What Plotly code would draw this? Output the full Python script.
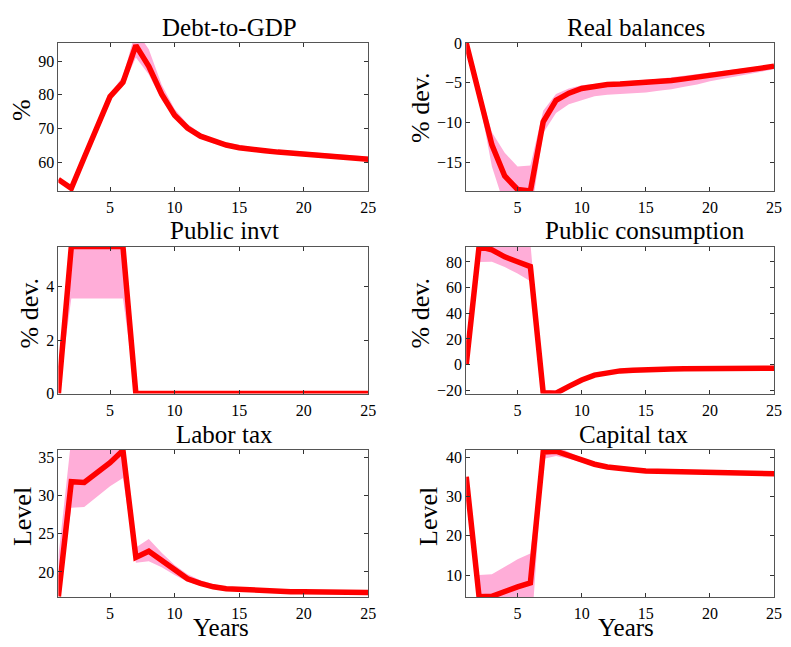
import plotly.graph_objects as go

years = list(range(1, 26))

debt = [55.0, 52.4, 61.5, 70.6, 79.5, 83.7, 94.6, 88.4, 80.2, 74.0, 70.2, 67.8, 66.3, 65.2, 64.4,
        63.8, 63.5, 63.1, 62.8, 62.5, 62.2, 61.9, 61.6, 61.3, 61.0]
debt_hi = [55.3, 52.8, 62.2, 71.3, 80.3, 85.5, 99.0, 93.5, 83.0, 75.8, 71.4, 68.7, 67.1, 65.9, 65.1,
           64.5, 64.1, 63.8, 63.5, 63.2, 62.9, 62.6, 62.3, 62.0, 61.8]
debt_lo = [54.7, 52.0, 60.8, 69.9, 78.7, 82.5, 91.0, 86.0, 78.5, 73.0, 69.4, 67.1, 65.7, 64.7, 64.0,
           63.4, 63.1, 62.7, 62.4, 62.1, 61.8, 61.5, 61.2, 60.9, 60.5]

rb = [0.0, -6.2, -12.8, -16.7, -18.4, -18.6, -9.9, -7.2, -6.3, -5.7, -5.4, -5.2, -5.15, -5.05, -5.0,
      -4.85, -4.7, -4.5, -4.3, -4.05, -3.85, -3.6, -3.4, -3.15, -2.9]
rb_hi = [0.0, -5.6, -11.2, -13.8, -15.5, -15.4, -8.5, -6.4, -5.7, -5.3, -5.1, -4.95, -4.85, -4.75, -4.65,
         -4.5, -4.3, -4.1, -3.9, -3.7, -3.5, -3.3, -3.1, -2.9, -2.7]
rb_lo = [0.0, -7.0, -15.5, -20.5, -22.0, -22.0, -11.3, -8.8, -7.7, -7.2, -6.7, -6.5, -6.4, -6.35, -6.2,
         -6.0, -5.8, -5.5, -5.2, -4.8, -4.5, -4.2, -3.9, -3.6, -3.3]

pinv = [0.0, 5.49, 5.49, 5.49, 5.49, 5.49] + [0.0] * 19
pinv_hi = [0.0, 5.6, 5.6, 5.6, 5.6, 5.6] + [0.0] * 19
pinv_lo = [0.0, 3.55, 3.55, 3.55, 3.55, 3.55] + [0.0] * 19

pcons = [0.0, 92.0, 89.5, 84.0, 80.2, 76.4, -22.0, -22.3, -17.0, -12.0, -8.2, -6.2, -4.9, -4.4, -3.8,
         -3.6, -3.4, -3.3, -3.2, -3.1, -3.0, -2.9, -2.8, -2.8, -2.8]
pcons_hi = [0.0, 100.0, 100.0, 100.0, 98.0, 95.0, -20.0, -20.0, -15.5, -11.0, -7.5, -5.7, -4.5, -4.0, -3.5,
            -3.3, -3.1, -3.0, -2.9, -2.8, -2.7, -2.6, -2.5, -2.5, -2.5]
pcons_lo = [0.0, 80.0, 80.2, 76.0, 71.0, 65.0, -23.0, -25.0, -19.0, -13.3, -9.0, -6.8, -5.4, -4.8, -4.2,
            -3.9, -3.7, -3.6, -3.5, -3.4, -3.3, -3.2, -3.1, -3.1, -3.1]

labor = [16.8, 31.8, 31.7, 33.0, 34.3, 35.9, 21.9, 22.7, 21.45, 20.2, 19.1, 18.5, 18.05, 17.8, 17.7,
         17.55, 17.5, 17.45, 17.4, 17.4, 17.35, 17.3, 17.3, 17.3, 17.3]
labor_hi = [22.0, 37.5, 38.0, 38.0, 38.0, 36.5, 23.2, 24.3, 22.5, 20.9, 19.7, 18.9, 18.4, 18.1, 17.9,
            17.75, 17.65, 17.55, 17.5, 17.45, 17.4, 17.4, 17.35, 17.35, 17.35]
labor_lo = [16.6, 28.4, 28.5, 29.8, 31.2, 32.3, 21.2, 21.4, 20.6, 19.6, 18.7, 18.2, 17.85, 17.65, 17.55,
            17.45, 17.4, 17.35, 17.3, 17.3, 17.25, 17.2, 17.2, 17.2, 17.2]

captax = [35.0, 4.5, 4.6, 5.9, 7.0, 8.0, 41.3, 41.5, 40.4, 39.2, 38.2, 37.5, 37.0, 36.8, 36.5,
          36.4, 36.3, 36.2, 36.1, 36.0, 36.0, 36.0, 36.0, 35.9, 35.8]
captax_hi = [35.0, 10.0, 10.2, 12.0, 14.0, 15.5, 42.0, 42.8, 41.3, 39.8, 38.6, 37.8, 37.2, 36.9, 36.6,
             36.5, 36.4, 36.3, 36.2, 36.1, 36.1, 36.1, 36.1, 36.0, 35.9]
captax_lo = [35.0, -2.0, -2.0, -1.0, 0.0, -8.0, 39.5, 40.3, 39.6, 38.7, 37.8, 37.2, 36.8, 36.6, 36.4,
             36.3, 36.2, 36.1, 36.0, 35.9, 35.9, 35.9, 35.9, 35.8, 35.7]

titles = ["Debt-to-GDP", "Real balances", "Public invt", "Public consumption", "Labor tax", "Capital tax"]
ylabels = ["%", "% dev.", "% dev.", "% dev.", "Level", "Level"]
yticks = [[60, 70, 80, 90], [-15, -10, -5, 0], [0, 2, 4], [-20, 0, 20, 40, 60, 80],
          [20, 25, 30, 35], [10, 20, 30, 40]]
yranges = [[51.6, 95.3], [-18.6, 0], [0, 5.49], [-22.6, 92.0], [16.7, 35.95], [4.4, 41.8]]
xticks = [5, 10, 15, 20, 25]

series = [(debt, debt_hi, debt_lo), (rb, rb_hi, rb_lo), (pinv, pinv_hi, pinv_lo),
          (pcons, pcons_hi, pcons_lo), (labor, labor_hi, labor_lo), (captax, captax_hi, captax_lo)]

W, H = 791, 647
# panel pixel boxes: (left, right, top, bottom)
boxes = [(59, 372, 36, 188), (471, 782, 36, 188),
         (59, 372, 245, 396), (471, 782, 245, 396),
         (59, 372, 454, 605), (471, 782, 454, 605)]
title_pos = [(232, 20), (643, 20), (227, 229), (652, 229), (227, 438), (640, 438)]
ylab_pos = [(21, 105), (425, 102), (30, 313), (425, 313), (23, 522), (433, 522)]
years_x = [223, 632]

FONT = "Liberation Serif, Times New Roman, serif"
fig = go.Figure()
layout = dict(width=W, height=H, margin=dict(l=0, r=0, t=0, b=0),
              paper_bgcolor="white", plot_bgcolor="white", showlegend=False,
              font=dict(family=FONT, color="black", size=16))
annotations = []

for i, ((mid, hi, lo), box) in enumerate(zip(series, boxes)):
    n = i + 1
    xa = "x" if n == 1 else f"x{n}"
    ya = "y" if n == 1 else f"y{n}"
    fig.add_trace(go.Scatter(x=years, y=hi, mode="lines", line=dict(width=0, color="#FFADD8"),
                             xaxis=xa, yaxis=ya, hoverinfo="skip"))
    fig.add_trace(go.Scatter(x=years, y=lo, mode="lines", line=dict(width=0, color="#FFADD8"),
                             fill="tonexty", fillcolor="#FFADD8", xaxis=xa, yaxis=ya, hoverinfo="skip"))
    fig.add_trace(go.Scatter(x=years, y=mid, mode="lines", line=dict(width=5.5, color="#FF0000"),
                             xaxis=xa, yaxis=ya))
    l, r, t, b = box
    axcommon = dict(showline=True, linecolor="#555555", linewidth=1, mirror="ticks",
                    ticks="inside", ticklen=4, tickcolor="#333333", showgrid=False, zeroline=False,
                    ticklabeloverflow="allow",
                    tickfont=dict(family=FONT, size=16, color="black"))
    xkey = "xaxis" if n == 1 else f"xaxis{n}"
    ykey = "yaxis" if n == 1 else f"yaxis{n}"
    layout[xkey] = dict(domain=[l / W, r / W], anchor=ya, range=[1, 25], tickvals=xticks,
                        ticklabelstandoff=2, **axcommon)
    layout[ykey] = dict(domain=[1 - b / H, 1 - t / H], anchor=xa, range=yranges[i],
                        tickvals=yticks[i], **axcommon)
    tx, ty = title_pos[i]
    annotations.append(dict(text=titles[i], x=tx / W, y=1 - ty / H, xref="paper", yref="paper",
                            showarrow=False, xanchor="center", yanchor="middle", borderpad=0,
                            font=dict(family=FONT, size=25, color="black")))
    lx, ly = ylab_pos[i]
    annotations.append(dict(text=ylabels[i], x=lx / W, y=1 - ly / H, xref="paper", yref="paper",
                            showarrow=False, xanchor="center", yanchor="middle", textangle=-90,
                            font=dict(family=FONT, size=26, color="black")))

for px in years_x:
    annotations.append(dict(text="Years", x=px / W, y=-4 / H, xref="paper", yref="paper",
                            showarrow=False, xanchor="center", yanchor="bottom", borderpad=0,
                            font=dict(family=FONT, size=25, color="black")))

layout["annotations"] = annotations
fig.update_layout(**layout)
fig.write_html("out.html", config={"displayModeBar": False},
               post_script="document.body.style.margin='0';document.body.style.overflow='hidden';")
